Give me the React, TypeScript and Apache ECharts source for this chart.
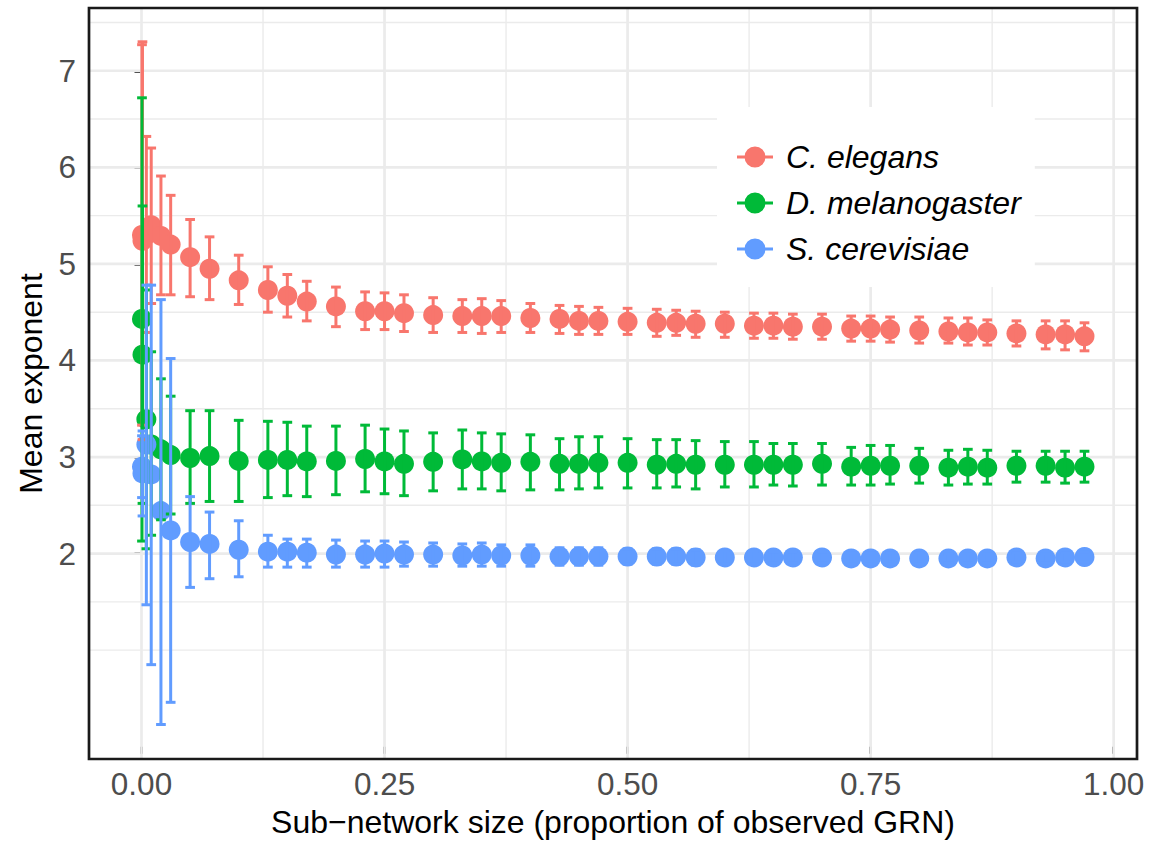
import React, { useEffect, useRef } from "react";
import * as echarts from "echarts";

// ---- data ----
const sizes = [0.0005, 0.001, 0.005, 0.01, 0.02, 0.03, 0.05, 0.07, 0.1, 0.13, 0.15, 0.17, 0.2, 0.23, 0.25, 0.27, 0.3, 0.33, 0.35, 0.37, 0.4, 0.43, 0.45, 0.47, 0.5, 0.53, 0.55, 0.57, 0.6, 0.63, 0.65, 0.67, 0.7, 0.73, 0.75, 0.77, 0.8, 0.83, 0.85, 0.87, 0.9, 0.93, 0.95, 0.97];

const speciesNames = ["C. elegans", "D. melanogaster", "S. cerevisiae"];

const elegansMean = [5.30, 5.24, 5.30, 5.40, 5.29, 5.20, 5.07, 4.95, 4.83, 4.73, 4.67, 4.61, 4.56, 4.51, 4.51, 4.49, 4.47, 4.46, 4.46, 4.46, 4.44, 4.43, 4.41, 4.41, 4.40, 4.39, 4.39, 4.38, 4.38, 4.36, 4.36, 4.35, 4.35, 4.33, 4.33, 4.32, 4.31, 4.30, 4.29, 4.29, 4.28, 4.27, 4.27, 4.25];
const elegansLow = [3.33, 3.18, 4.29, 4.59, 4.68, 4.68, 4.66, 4.63, 4.58, 4.50, 4.45, 4.41, 4.35, 4.32, 4.32, 4.30, 4.29, 4.29, 4.28, 4.29, 4.29, 4.28, 4.27, 4.27, 4.27, 4.25, 4.26, 4.24, 4.24, 4.23, 4.23, 4.22, 4.22, 4.20, 4.20, 4.19, 4.18, 4.18, 4.16, 4.16, 4.15, 4.12, 4.11, 4.10];
const elegansHigh = [7.27, 7.30, 6.32, 6.20, 5.91, 5.71, 5.46, 5.28, 5.09, 4.97, 4.89, 4.82, 4.76, 4.71, 4.70, 4.68, 4.65, 4.63, 4.64, 4.62, 4.59, 4.57, 4.56, 4.55, 4.54, 4.53, 4.52, 4.51, 4.50, 4.49, 4.49, 4.48, 4.48, 4.46, 4.46, 4.45, 4.45, 4.44, 4.44, 4.42, 4.41, 4.41, 4.41, 4.39];

const melanoMean = [4.43, 4.06, 3.39, 3.13, 3.08, 3.02, 2.99, 3.01, 2.96, 2.97, 2.97, 2.955, 2.96, 2.98, 2.955, 2.93, 2.95, 2.975, 2.955, 2.94, 2.95, 2.93, 2.93, 2.94, 2.94, 2.92, 2.93, 2.92, 2.92, 2.92, 2.92, 2.92, 2.93, 2.90, 2.91, 2.91, 2.91, 2.89, 2.90, 2.89, 2.91, 2.91, 2.89, 2.90];
const melanoLow = [2.13, 2.52, 2.05, 2.19, 2.35, 2.41, 2.52, 2.54, 2.54, 2.58, 2.60, 2.59, 2.61, 2.64, 2.62, 2.60, 2.65, 2.67, 2.67, 2.65, 2.66, 2.66, 2.67, 2.68, 2.68, 2.68, 2.69, 2.67, 2.69, 2.69, 2.71, 2.70, 2.71, 2.71, 2.71, 2.72, 2.73, 2.71, 2.72, 2.72, 2.74, 2.74, 2.73, 2.74];
const melanoHigh = [6.72, 5.60, 4.73, 4.09, 3.81, 3.63, 3.48, 3.48, 3.38, 3.37, 3.36, 3.32, 3.32, 3.33, 3.29, 3.27, 3.25, 3.28, 3.25, 3.24, 3.23, 3.19, 3.21, 3.21, 3.19, 3.18, 3.18, 3.17, 3.16, 3.16, 3.14, 3.14, 3.14, 3.10, 3.12, 3.12, 3.09, 3.07, 3.08, 3.07, 3.06, 3.06, 3.06, 3.06];

const cerevMean = [2.90, 2.83, 3.13, 2.82, 2.44, 2.24, 2.12, 2.10, 2.04, 2.02, 2.02, 2.01, 1.99, 1.99, 2.00, 1.99, 1.99, 1.98, 1.99, 1.98, 1.98, 1.97, 1.97, 1.97, 1.97, 1.97, 1.97, 1.96, 1.96, 1.96, 1.96, 1.96, 1.96, 1.95, 1.95, 1.95, 1.95, 1.95, 1.95, 1.95, 1.96, 1.95, 1.96, 1.965];
const cerevLow = [2.58, 2.39, 1.47, 0.85, 0.23, 0.46, 1.65, 1.74, 1.76, 1.86, 1.86, 1.86, 1.86, 1.86, 1.86, 1.87, 1.87, 1.87, 1.87, 1.87, 1.87, 1.88, 1.88, 1.88, 1.89, 1.89, 1.89, 1.88, 1.89, 1.89, 1.90, 1.90, 1.90, 1.89, 1.89, 1.89, 1.89, 1.90, 1.90, 1.90, 1.91, 1.90, 1.91, 1.915];
const cerevHigh = [3.22, 3.27, 4.78, 4.78, 4.63, 4.02, 2.59, 2.43, 2.34, 2.19, 2.15, 2.15, 2.14, 2.13, 2.13, 2.12, 2.11, 2.10, 2.11, 2.09, 2.09, 2.06, 2.06, 2.06, 2.05, 2.05, 2.05, 2.04, 2.03, 2.03, 2.02, 2.02, 2.02, 2.01, 2.01, 2.01, 2.01, 2.00, 2.00, 2.00, 2.01, 2.00, 2.01, 2.015];

const xTicks = [0, 0.25, 0.5, 0.75, 1.0];
const xMinor = [0.125, 0.375, 0.625, 0.875];
const yTicks = [2, 3, 4, 5, 6, 7];
const yMinor = [1, 1.5, 2.5, 3.5, 4.5, 5.5, 6.5, 7.5];

const X_MIN = -0.054;
const X_MAX = 1.024;
const Y_MIN = -0.127;
const Y_MAX = 7.65;
const CAP_HALF = 0.005;

const COLORS = ["#F8766D", "#00BA38", "#619CFF"];
const FONT = "'Liberation Sans', Arial, Helvetica, sans-serif";

const ICON =
  "path://M0,9h36v3h-36z M7.5,10.5a10.5,10.5 0 1,1 21,0a10.5,10.5 0 1,1 -21,0z";

export default function App() {
  const ref = useRef<HTMLDivElement>(null);

  useEffect(() => {
    if (!ref.current) return;
    const chart = echarts.init(ref.current, null, { renderer: "svg" });

    const means = [elegansMean, melanoMean, cerevMean];
    const lows = [elegansLow, melanoLow, cerevLow];
    const highs = [elegansHigh, melanoHigh, cerevHigh];

    const vGrid = (vals: number[], width: number) => ({
      type: "custom",
      coordinateSystem: "cartesian2d",
      silent: true,
      z: 1,
      data: vals.map((v) => [v, 0]),
      encode: { x: 0, y: 1 },
      renderItem: (params: any, api: any) => {
        const x = api.coord([api.value(0), 0])[0];
        const cs = params.coordSys;
        return {
          type: "line",
          shape: { x1: x, y1: cs.y, x2: x, y2: cs.y + cs.height },
          style: { stroke: "#EBEBEB", lineWidth: width },
        };
      },
    });
    const hGrid = (vals: number[], width: number) => ({
      type: "custom",
      coordinateSystem: "cartesian2d",
      silent: true,
      z: 1,
      data: vals.map((v) => [0, v]),
      encode: { x: 0, y: 1 },
      renderItem: (params: any, api: any) => {
        const y = api.coord([0, api.value(1)])[1];
        const cs = params.coordSys;
        return {
          type: "line",
          shape: { x1: cs.x, y1: y, x2: cs.x + cs.width, y2: y },
          style: { stroke: "#EBEBEB", lineWidth: width },
        };
      },
    });

    const pointSeries = speciesNames.map((name, i) => ({
      name,
      type: "scatter",
      z: 3,
      symbol: "circle",
      symbolSize: 20,
      itemStyle: { color: COLORS[i], opacity: 1 },
      data: sizes.map((x, k) => [x, means[i][k]]),
    }));

    const errSeries = speciesNames.map((name, i) => ({
      type: "custom",
      coordinateSystem: "cartesian2d",
      silent: true,
      z: 4,
      data: sizes.map((x, k) => [x, lows[i][k], highs[i][k]]),
      encode: { x: 0, y: [1, 2] },
      renderItem: (params: any, api: any) => {
        const xv = api.value(0);
        const top = api.coord([xv, api.value(2)]);
        const bot = api.coord([xv, api.value(1)]);
        const half = api.coord([xv + CAP_HALF, api.value(2)])[0] - top[0];
        const style = { stroke: COLORS[i], lineWidth: 3 };
        return {
          type: "group",
          children: [
            { type: "line", shape: { x1: top[0], y1: top[1], x2: bot[0], y2: bot[1] }, style },
            { type: "line", shape: { x1: top[0] - half, y1: top[1], x2: top[0] + half, y2: top[1] }, style },
            { type: "line", shape: { x1: bot[0] - half, y1: bot[1], x2: bot[0] + half, y2: bot[1] }, style },
          ],
        };
      },
    }));

    const option: any = {
      animation: false,
      backgroundColor: "#ffffff",
      grid: {
        left: 89,
        top: 8,
        right: 25,
        bottom: 80,
        show: true,
        borderColor: "#1a1a1a",
        borderWidth: 2.7,
        backgroundColor: "transparent",
        z: 10,
      },
      legend: {
        data: speciesNames,
        orient: "vertical",
        left: 717,
        top: 107,
        backgroundColor: "#ffffff",
        padding: [34, 14, 22, 20],
        itemWidth: 36,
        itemHeight: 21,
        itemGap: 14,
        icon: ICON,
        selectedMode: false,
        textStyle: {
          fontSize: 32,
          fontStyle: "italic",
          color: "#000000",
          fontFamily: FONT,
          lineHeight: 32,
          padding: [0, 0, 0, 8],
        },
      },
      xAxis: {
        type: "value",
        min: X_MIN,
        max: X_MAX,
        name: "Sub\u2212network size (proportion of observed GRN)",
        nameLocation: "middle",
        nameGap: 47,
        nameTextStyle: { fontSize: 32, color: "#000000", fontFamily: FONT },
        axisLine: { show: false },
        splitLine: { show: false },
        axisTick: {
          show: true,
          customValues: xTicks,
          length: 7,
          lineStyle: { color: "#333333", width: 2.7 },
        },
        axisLabel: {
          customValues: xTicks,
          formatter: (v: number) => v.toFixed(2),
          color: "#4D4D4D",
          fontSize: 31.5,
          margin: 9,
          fontFamily: FONT,
        },
      },
      yAxis: {
        type: "value",
        min: Y_MIN,
        max: Y_MAX,
        name: "Mean exponent",
        nameLocation: "middle",
        nameGap: 42,
        nameTextStyle: { fontSize: 32, color: "#000000", fontFamily: FONT },
        axisLine: { show: false },
        splitLine: { show: false },
        axisTick: {
          show: true,
          customValues: yTicks,
          length: 7,
          lineStyle: { color: "#333333", width: 2.7 },
        },
        axisLabel: {
          customValues: yTicks,
          formatter: (v: number) => String(v),
          color: "#4D4D4D",
          fontSize: 31.5,
          margin: 13,
          fontFamily: FONT,
        },
      },
      series: [
        hGrid(yMinor, 1.4),
        vGrid(xMinor, 1.4),
        hGrid(yTicks, 2.7),
        vGrid(xTicks, 2.7),
        ...pointSeries,
        ...errSeries,
      ],
    };

    chart.setOption(option);
    return () => chart.dispose();
  }, []);

  return (
    <div
      ref={ref}
      style={{ position: "fixed", left: 0, top: 0, width: 1162, height: 843, background: "#fff" }}
    />
  );
}
